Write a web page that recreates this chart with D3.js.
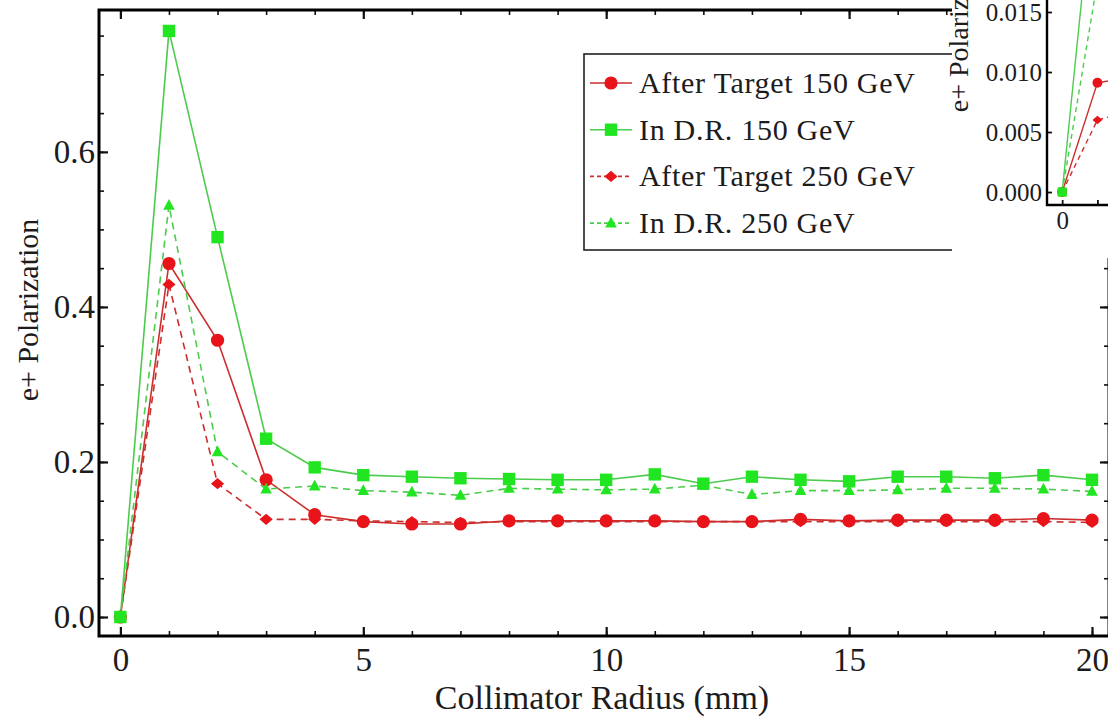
<!DOCTYPE html>
<html>
<head>
<meta charset="utf-8">
<script src="https://cdn.jsdelivr.net/npm/d3@7"></script>
<style>
  body { margin: 0; background: #fff; }
  svg { display: block; }
  text { font-family: "Liberation Serif", "Times New Roman", serif; fill: #1c1c1c; }
</style>
</head>
<body>
<svg id="chart" width="1108" height="721"></svg>
<script>
// Collimator radius (mm) and e+ polarization for each configuration
const radius = d3.range(0, 21);
const afterTarget150 = [0, 0.456, 0.357, 0.177, 0.132, 0.123, 0.120, 0.120, 0.124, 0.124, 0.124, 0.124, 0.123, 0.123, 0.126, 0.124, 0.125, 0.125, 0.125, 0.127, 0.125];
const inDR150        = [0, 0.756, 0.490, 0.230, 0.193, 0.183, 0.181, 0.179, 0.178, 0.177, 0.177, 0.184, 0.172, 0.181, 0.177, 0.175, 0.181, 0.181, 0.179, 0.183, 0.177];
const afterTarget250 = [0, 0.429, 0.172, 0.126, 0.126, 0.124, 0.123, 0.122, 0.123, 0.123, 0.123, 0.123, 0.123, 0.123, 0.123, 0.123, 0.123, 0.123, 0.123, 0.123, 0.122];
const inDR250        = [0, 0.531, 0.213, 0.165, 0.169, 0.163, 0.161, 0.157, 0.166, 0.165, 0.164, 0.165, 0.170, 0.158, 0.163, 0.163, 0.164, 0.166, 0.166, 0.165, 0.162];

const xTicks = [0, 5, 10, 15, 20];
const yTicks = [0, 0.2, 0.4, 0.6];
const yMinorTicks = d3.range(0, 16).map(i => i * 0.05);

// Inset: the first millimetre, on a finer polarization scale
const insetRadius = [0, 1, 2];
const insetAfterTarget150 = [0, 0.0091, 0.0096];
const insetInDR150        = [0, 0.029];
const insetAfterTarget250 = [0, 0.0060, 0.0068];
const insetInDR250        = [0, 0.0175];
const insetYTicks = [0, 0.005, 0.010, 0.015];

const RED_MARK = "#e8141a", RED_LINE = "#cc2e2e";
const GREEN_MARK = "#22e522", GREEN_LINE = "#4ccc4c";

const series = [
  { name: "After Target 150 GeV", values: afterTarget150, inset: insetAfterTarget150, mark: RED_MARK, line: RED_LINE, dash: null, shape: "circle" },
  { name: "In D.R. 150 GeV",      values: inDR150,        inset: insetInDR150,        mark: GREEN_MARK, line: GREEN_LINE, dash: null, shape: "square" },
  { name: "After Target 250 GeV", values: afterTarget250, inset: insetAfterTarget250, mark: RED_MARK, line: RED_LINE, dash: "7,5", shape: "diamond" },
  { name: "In D.R. 250 GeV",      values: inDR250,        inset: insetInDR250,        mark: GREEN_MARK, line: GREEN_LINE, dash: "7,5", shape: "triangle" }
];

const svg = d3.select("#chart");
const W = 1108, H = 721;
svg.append("rect").attr("width", W).attr("height", H).attr("fill", "#fff");

const frame = { left: 99, right: 1109, top: 10, bottom: 636 };
const x = d3.scaleLinear().domain([-0.44, 20.35]).range([frame.left, frame.right]);
const y = d3.scaleLinear().domain([-0.0245, 0.783]).range([frame.bottom, frame.top]);

// marker shapes scaled by a factor
function marker(shape, k) {
  const p = d3.path();
  if (shape === "circle") { p.arc(0, 0, 6.6 * k, 0, 2 * Math.PI); }
  else if (shape === "square") { const s = 6.2 * k; p.rect(-s, -s, 2 * s, 2 * s); }
  else if (shape === "diamond") { p.moveTo(-6.6 * k, 0); p.lineTo(0, -5.6 * k); p.lineTo(6.6 * k, 0); p.lineTo(0, 5.6 * k); p.closePath(); }
  else { p.moveTo(0, -6.4 * k); p.lineTo(5.8 * k, 4.4 * k); p.lineTo(-5.8 * k, 4.4 * k); p.closePath(); }
  return p.toString();
}

svg.append("clipPath").attr("id", "plotClip").append("rect")
  .attr("x", frame.left).attr("y", frame.top)
  .attr("width", frame.right - frame.left).attr("height", frame.bottom - frame.top);

const plot = svg.append("g").attr("clip-path", "url(#plotClip)");
const line = d3.line().x((d, i) => x(radius[i])).y(d => y(d));

series.forEach(s => {
  plot.append("path").datum(s.values)
    .attr("d", line).attr("fill", "none")
    .attr("stroke", s.line).attr("stroke-width", 1.6)
    .attr("stroke-dasharray", s.dash);
});
[0, 2, 1, 3].forEach(k => {
  const s = series[k];
  plot.append("g").selectAll("path").data(s.values).join("path")
    .attr("transform", (d, i) => `translate(${x(radius[i])},${y(d)})`)
    .attr("d", marker(s.shape, 1)).attr("fill", s.mark);
});

// axes: ticks drawn inward on all four sides
function styleAxis(g, width) {
  g.attr("font-family", null).attr("font-size", null);
  g.select(".domain").remove();
  g.selectAll(".tick line").attr("stroke", "#111").attr("stroke-width", width);
  g.selectAll("text").attr("font-size", 33).attr("fill", "#1c1c1c");
}
const fmt1 = d3.format(".1f");
svg.append("g").attr("transform", `translate(0,${frame.bottom})`)
  .call(d3.axisBottom(x).tickValues(radius).tickSize(-5).tickFormat(""))
  .call(g => styleAxis(g, 1.6));
svg.append("g").attr("transform", `translate(0,${frame.bottom})`)
  .call(d3.axisBottom(x).tickValues(xTicks).tickSize(-9).tickPadding(12).tickFormat(d3.format("d")))
  .call(g => styleAxis(g, 2.2));
svg.append("g").attr("transform", `translate(0,${frame.top})`)
  .call(d3.axisTop(x).tickValues(radius).tickSize(-5).tickFormat(""))
  .call(g => styleAxis(g, 1.6));
svg.append("g").attr("transform", `translate(0,${frame.top})`)
  .call(d3.axisTop(x).tickValues(xTicks).tickSize(-9).tickFormat(""))
  .call(g => styleAxis(g, 2.2));
svg.append("g").attr("transform", `translate(${frame.left},0)`)
  .call(d3.axisLeft(y).tickValues(yMinorTicks).tickSize(-5).tickFormat(""))
  .call(g => styleAxis(g, 1.6));
svg.append("g").attr("transform", `translate(${frame.left},0)`)
  .call(d3.axisLeft(y).tickValues(yTicks).tickSize(-9).tickPadding(4).tickFormat(fmt1))
  .call(g => styleAxis(g, 2.2));
svg.append("g").attr("transform", `translate(${frame.right},0)`)
  .call(d3.axisRight(y).tickValues(yMinorTicks).tickSize(-5).tickFormat(""))
  .call(g => styleAxis(g, 1.6));
svg.append("g").attr("transform", `translate(${frame.right},0)`)
  .call(d3.axisRight(y).tickValues(yTicks).tickSize(-9).tickFormat(""))
  .call(g => styleAxis(g, 2.2));

svg.append("rect")
  .attr("x", frame.left).attr("y", frame.top)
  .attr("width", frame.right - frame.left).attr("height", frame.bottom - frame.top)
  .attr("fill", "none").attr("stroke", "#000").attr("stroke-width", 3);

// axis titles
svg.append("text").attr("x", 602).attr("y", 709).attr("text-anchor", "middle")
  .attr("font-size", 34).text("Collimator Radius (mm)");
svg.append("text").attr("transform", "translate(38,310) rotate(-90)")
  .attr("text-anchor", "middle").attr("font-size", 30).text("e+ Polarization");

// legend
const legend = svg.append("g");
legend.append("rect").attr("x", 584).attr("y", 54).attr("width", 600).attr("height", 196)
  .attr("fill", "#fff").attr("stroke", "#222").attr("stroke-width", 1.6);
series.forEach((s, i) => {
  const cy = 83 + i * 46.7;
  const row = legend.append("g").attr("transform", `translate(0,${cy})`);
  row.append("line").attr("x1", 590).attr("x2", 632).attr("y1", 0).attr("y2", 0)
    .attr("stroke", s.line).attr("stroke-width", 1.6)
    .attr("stroke-dasharray", s.dash ? "4,3" : null);
  row.append("path").attr("transform", "translate(611,0)")
    .attr("d", marker(s.shape, 1)).attr("fill", s.mark);
  row.append("text").attr("x", 639).attr("y", 10).attr("font-size", 30)
    .attr("letter-spacing", 0.7).text(s.name);
});

// inset panel
const inset = svg.append("g");
inset.append("rect").attr("x", 952).attr("y", 0).attr("width", 160).attr("height", 258).attr("fill", "#fff");
const ix = d3.scaleLinear().domain([-0.43, 1.3]).range([1047, 1108]);
const iy = d3.scaleLinear().domain([-0.00108, 0.016]).range([205, 0]);
svg.append("clipPath").attr("id", "insetClip").append("rect")
  .attr("x", 1047).attr("y", 0).attr("width", 70).attr("height", 205);
const iplot = inset.append("g").attr("clip-path", "url(#insetClip)");
const iline = d3.line().x((d, i) => ix(insetRadius[i])).y(d => iy(d));
series.forEach(s => {
  iplot.append("path").datum(s.inset).attr("d", iline).attr("fill", "none")
    .attr("stroke", s.line).attr("stroke-width", 1.4).attr("stroke-dasharray", s.dash ? "5,4" : null);
});
[0, 2, 1, 3].forEach(k => {
  const s = series[k];
  iplot.append("g").selectAll("path").data(s.inset).join("path")
    .attr("transform", (d, i) => `translate(${ix(insetRadius[i])},${iy(d)})`)
    .attr("d", marker(s.shape, 0.75)).attr("fill", s.mark);
});
inset.append("g").attr("transform", "translate(1047,0)")
  .call(d3.axisLeft(iy).tickValues(insetYTicks).tickSize(-5).tickPadding(5).tickFormat(d3.format(".3f")))
  .call(g => { styleAxis(g, 1.8); g.selectAll("text").attr("font-size", 25); });
inset.append("g").attr("transform", "translate(0,205)")
  .call(d3.axisBottom(ix).tickValues([0, 1]).tickSize(-5).tickPadding(6).tickFormat(d => d === 0 ? "0" : ""))
  .call(g => { styleAxis(g, 1.8); g.selectAll("text").attr("font-size", 25); });
inset.append("path").attr("d", d3.line()([[1047, 0], [1047, 205], [1110, 205]]))
  .attr("fill", "none").attr("stroke", "#000").attr("stroke-width", 2.4);
inset.append("text").attr("transform", "translate(968,27) rotate(-90)")
  .attr("text-anchor", "middle").attr("font-size", 28).text("e+ Polarization");
</script>
</body>
</html>
